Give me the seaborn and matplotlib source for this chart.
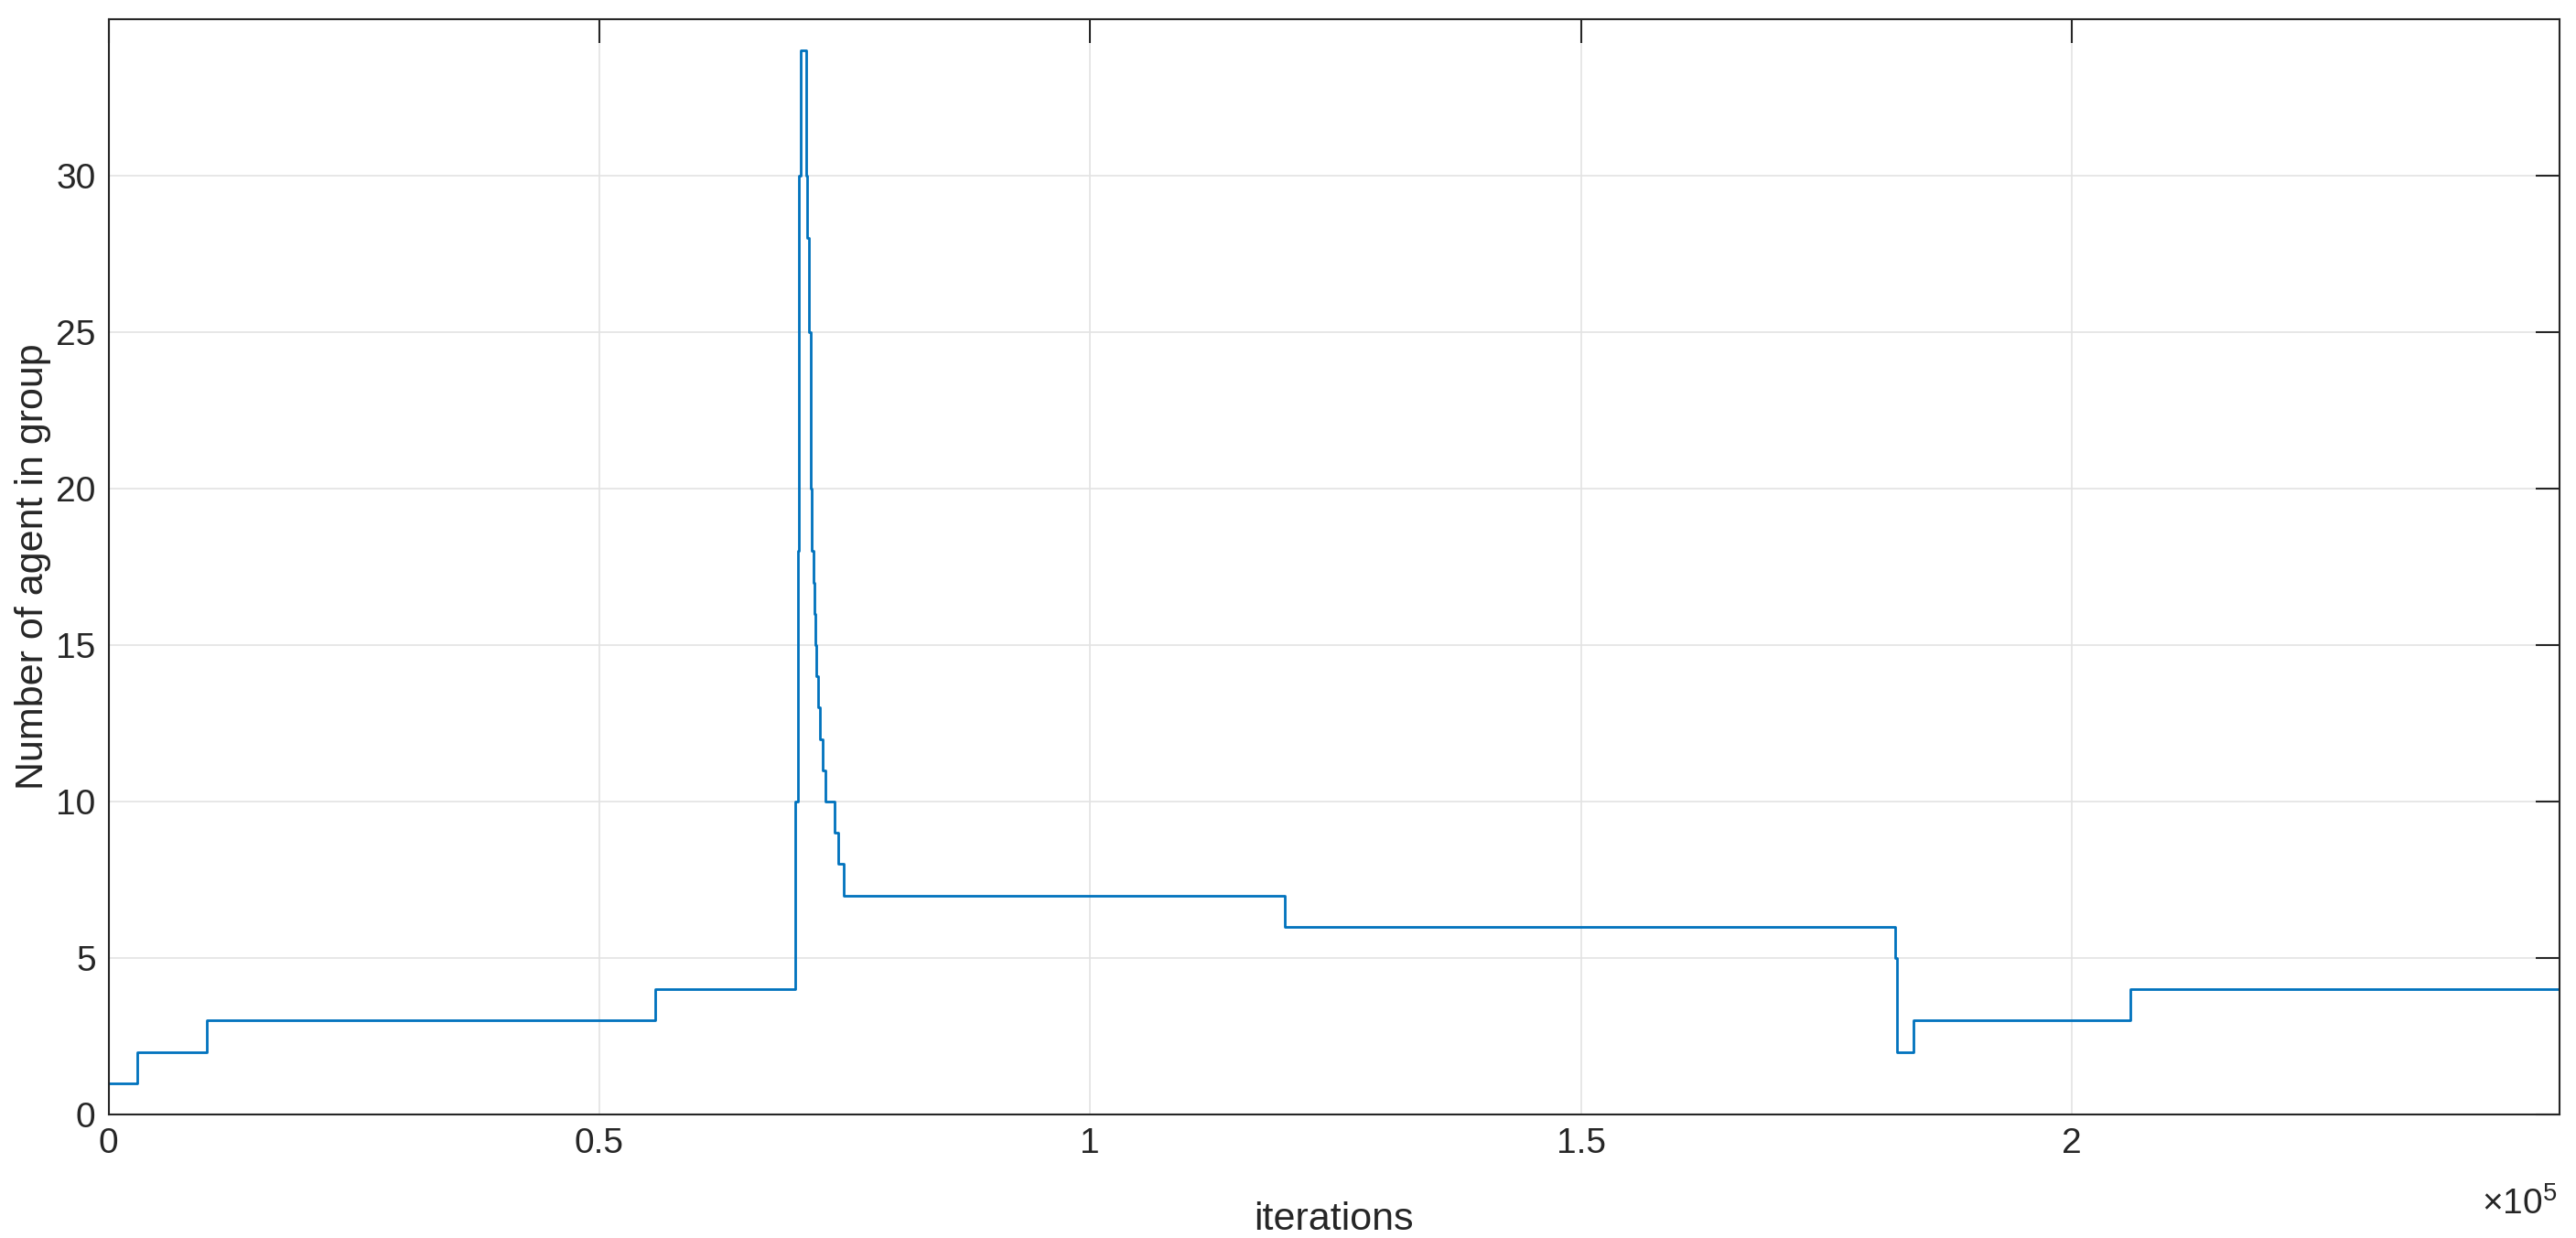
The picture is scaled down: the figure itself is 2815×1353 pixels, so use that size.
import numpy as np
import matplotlib
matplotlib.use("Agg")
import matplotlib.pyplot as plt
import seaborn as sns
import pandas as pd

# step positions (iterations) and number of agents
iters = [0, 2900, 10000, 55700, 69990, 70000, 70220, 70310, 70370, 70520, 70620,
         71080, 71200, 71390, 71550, 71670, 71830, 71920, 72010, 72140, 72320,
         72480, 72760, 73070, 74000, 74310, 74930, 119800, 182000, 182240,
         183880, 205980, 249700]
agents = [1, 2, 3, 4, 5, 10, 18, 20, 30, 34, 34,
          30, 28, 25, 20, 18, 17, 16, 15, 14, 13,
          12, 11, 10, 9, 8, 7, 6, 5, 2,
          3, 4, 4]

xticks = [0, 50000, 100000, 150000, 200000]
xtick_labels = ["0", "0.5", "1", "1.5", "2"]
yticks = [0, 5, 10, 15, 20, 25, 30]

df = pd.DataFrame({"iterations": iters, "agents": agents})

sns.set_style("white")
plt.rcParams['font.family'] = ['Liberation Sans', 'DejaVu Sans']
plt.rcParams['mathtext.fontset'] = 'custom'
plt.rcParams['mathtext.rm'] = 'Liberation Sans'
plt.rcParams['mathtext.it'] = 'Liberation Sans'

fig = plt.figure(figsize=(28.15, 13.53), dpi=100)
ax = fig.add_axes([0.0421, 0.0998, 0.9515, 0.8847])

sns.lineplot(data=df, x="iterations", y="agents", ax=ax, color="#0072BD",
             linewidth=2.0, drawstyle="steps-post", estimator=None, sort=False)

ax.set_xlim(0, 249700)
ax.set_ylim(0, 35)
ax.set_xticks(xticks)
ax.set_xticklabels(xtick_labels)
ax.set_yticks(yticks)
ax.grid(True, color="#e3e3e3", linewidth=1.2)
ax.set_axisbelow(True)
for s in ax.spines.values():
    s.set_visible(True)
    s.set_color("#262626")
    s.set_linewidth(1.5)
ax.tick_params(direction="in", length=19, width=1.5, color="#262626",
               labelsize=28, labelcolor="#262626", top=True, right=True,
               pad=10)
ax.set_xlabel("iterations", fontsize=31, color="#262626")
ax.xaxis.set_label_coords(0.5, -0.079)
ax.set_ylabel("Number of agent in group", fontsize=31, color="#262626", labelpad=4)
ax.text(0.999, -0.091, r"$\times10^{5}$", transform=ax.transAxes, ha="right",
        va="baseline", fontsize=28, color="#262626")

fig.savefig("out.png", dpi=100, facecolor="white")
